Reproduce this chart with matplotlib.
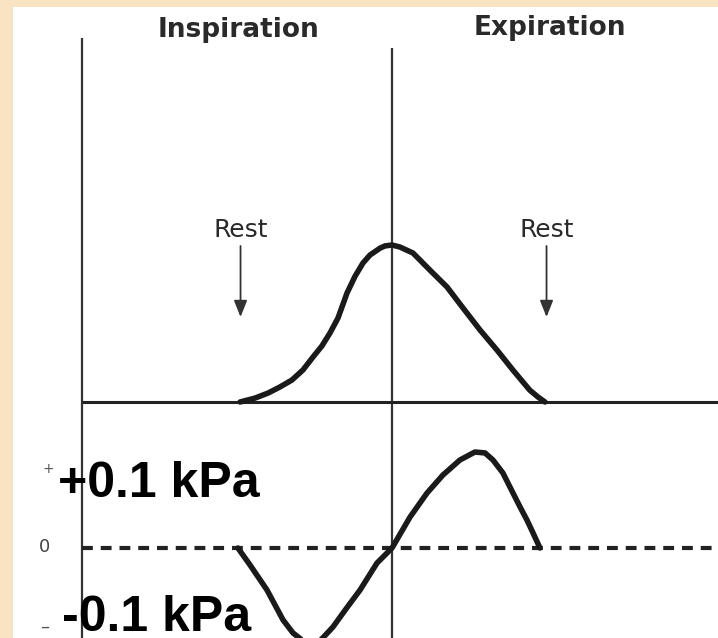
import matplotlib
matplotlib.use("Agg")
import matplotlib.pyplot as plt
from matplotlib.patches import Rectangle

# ---- data (time in arbitrary units; 0 = end of inspiration, +-1 = rest) ----
flow_t = [-0.993, -0.895, -0.81, -0.732, -0.654, -0.582, -0.516, -0.458, -0.405, -0.353,
          -0.294, -0.242, -0.19, -0.144, -0.078, -0.046, 0.0, 0.052, 0.137, 0.248,
          0.36, 0.464, 0.575, 0.686, 0.79, 0.85, 0.90, 0.954, 1.00]
flow_v = [0.0, 0.025, 0.057, 0.096, 0.14, 0.204, 0.287, 0.357, 0.44, 0.535,
          0.694, 0.80, 0.885, 0.936, 0.98, 0.994, 1.0, 0.987, 0.949, 0.84,
          0.732, 0.599, 0.459, 0.331, 0.204, 0.134, 0.076, 0.032, 0.0]

pres_t = [-1.007, -0.928, -0.817, -0.712, -0.647, -0.588, -0.523, -0.458, -0.386, -0.301,
          -0.209, -0.098, 0.0, 0.118, 0.229, 0.333, 0.444, 0.542, 0.608, 0.66,
          0.725, 0.771, 0.837, 0.882, 0.922, 0.967]
pres_p = [0.0, -0.215, -0.532, -0.911, -1.076, -1.165, -1.20, -1.15, -1.0, -0.772,
          -0.532, -0.19, 0.0, 0.392, 0.696, 0.924, 1.114, 1.215, 1.203, 1.114,
          0.949, 0.772, 0.519, 0.354, 0.19, 0.0]

phase_labels = ["Inspiration", "Expiration"]
rest_t = [-0.99, 1.01]
pressure_labels = ["+0.1 kPa", "-0.1 kPa"]

W, H = 718, 638
fig = plt.figure(figsize=(W / 100, H / 100), dpi=100)
fig.patch.set_facecolor("#F8E4C2")
fig.patches.append(Rectangle((13 / W, 0), 1, 1 - 7 / H, transform=fig.transFigure,
                             facecolor="white", edgecolor="none", zorder=-10))

ax = fig.add_axes([0, 0, 1, 1])
ax.set_facecolor("none")
ax.set_xlim(-392 / 153, (W - 392) / 153)
ax.set_ylim((402 - H) / 157, 402 / 157)
ax.axis("off")

ax2 = ax.twinx()
ax2.set_facecolor("none")
ax2.set_ylim((548 - H) / 79, 548 / 79)
ax2.axis("off")

t_left = (82 - 392) / 153
xmax = ax.get_xlim()[1]
ymin = ax.get_ylim()[0]

# axes lines
ax.vlines(t_left, ymin, (402 - 38) / 157, color="#333333", lw=1.6)
ax.vlines(0, ymin, (402 - 48) / 157, color="#333333", lw=1.6)
ax.hlines(0, t_left, xmax, color="#222222", lw=2.2)
ax2.plot([t_left, xmax], [0, 0], color="#222222", lw=3.0,
         linestyle=(0, (2.6, 1.9)), dash_capstyle="butt")

# curves
ax.plot(flow_t, flow_v, color="#1a1a1a", lw=4, solid_joinstyle="round", solid_capstyle="round")
ax2.plot(pres_t, pres_p, color="#1a1a1a", lw=4, solid_joinstyle="round", solid_capstyle="round")

# phase labels
fig.text(238 / W, 1 - 37 / H, phase_labels[0], ha="center", va="baseline",
         fontsize=19, fontweight="bold", color="#2a2a2a", family="DejaVu Sans")
fig.text(550 / W, 1 - 35 / H, phase_labels[1], ha="center", va="baseline",
         fontsize=19, fontweight="bold", color="#2a2a2a", family="DejaVu Sans")

# rest labels and arrows
for rt in rest_t:
    ax.text(rt, (402 - 237) / 157, "Rest", ha="center", va="baseline",
            fontsize=18, color="#2a2a2a", family="DejaVu Sans")
    ax.annotate("", xy=(rt, (402 - 317) / 157), xytext=(rt, (402 - 246) / 157),
                arrowprops=dict(arrowstyle="-|>,head_length=1.0,head_width=0.4",
                                color="#333333", lw=1.3, shrinkA=0, shrinkB=0))

# small axis marks
fig.text(48 / W, 1 - 469 / H, "+", ha="center", va="center", fontsize=10, color="#555555")
fig.text(45 / W, 1 - 547 / H, "0", ha="center", va="center", fontsize=13, color="#444444")
fig.text(45 / W, 1 - 627 / H, "\u2013", ha="center", va="center", fontsize=13, color="#555555")

# big pressure labels
fig.text(58 / W, 1 - 497 / H, pressure_labels[0], ha="left", va="baseline",
         fontsize=36, fontweight="bold", color="black", family="Liberation Sans")
fig.text(62 / W, 1 - 631 / H, pressure_labels[1], ha="left", va="baseline",
         fontsize=36, fontweight="bold", color="black", family="Liberation Sans")

fig.savefig("out.png", dpi=100)
